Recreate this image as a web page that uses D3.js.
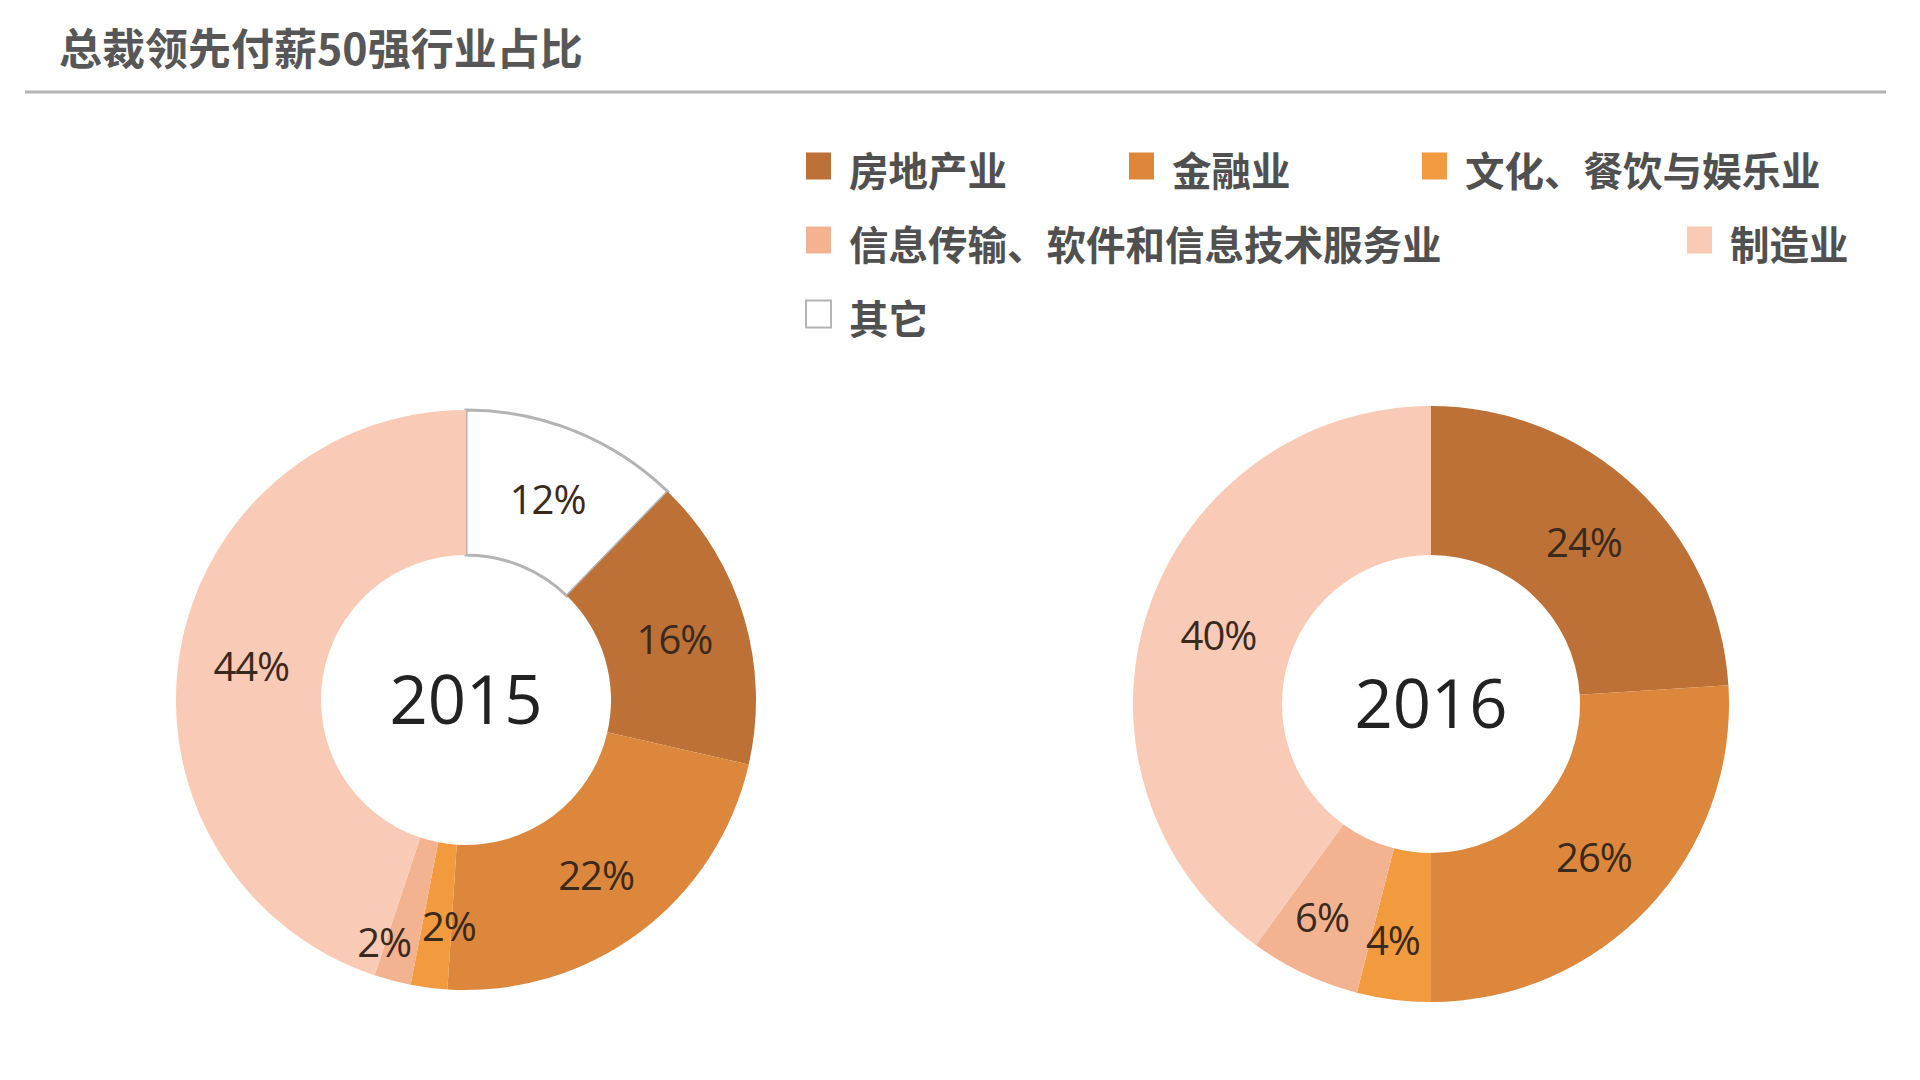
<!DOCTYPE html>
<html>
<head>
<meta charset="utf-8">
<script src="https://cdn.jsdelivr.net/npm/d3@7"></script>
<style>
  body { margin: 0; background: #fff; }
  svg { display: block; }
</style>
</head>
<body>
<div class="area"></div>
<script>
const width = 1920
const height = 1080
const cjkFont = '"Noto Sans CJK SC", "Noto Sans", sans-serif'
const numFont = '"Open Sans", "Noto Sans", sans-serif'

const title = "总裁领先付薪50强行业占比"

// categories in legend order
const categories = [
  "房地产业",
  "金融业",
  "文化、餐饮与娱乐业",
  "信息传输、软件和信息技术服务业",
  "制造业",
  "其它"
]
const colors = ["#bd7136", "#dc873c", "#f29a3e", "#f3b290", "#f9cab6", "#ffffff"]

// slice order around the ring, clockwise from 12 o'clock
const sliceOrder = ["其它", "房地产业", "金融业", "文化、餐饮与娱乐业", "信息传输、软件和信息技术服务业", "制造业"]

const years = ["2015", "2016"]
// values in % , same order as categories
const values2015 = [16, 22, 2, 2, 44, 12]
const values2016 = [24, 26, 4, 6, 40, 0]

const color = d3.scaleOrdinal().domain(categories).range(colors)

const svg = d3.select(".area")
  .append("svg")
  .attr("width", width)
  .attr("height", height)
  .attr("viewBox", [0, 0, width, height])

svg.append("rect")
  .attr("width", width).attr("height", height)
  .attr("fill", "#fff")

// title + rule
svg.append("text")
  .attr("x", 59)
  .attr("y", 46)
  .attr("dominant-baseline", "central")
  .attr("font-family", cjkFont)
  .attr("font-weight", 700)
  .attr("font-size", 43)
  .attr("fill", "#575757")
  .text(title)

svg.append("line")
  .attr("x1", 25).attr("x2", 1886)
  .attr("y1", 92).attr("y2", 92)
  .attr("stroke", "#b4b4b4")
  .attr("stroke-width", 3)

// legend, slots laid out as in the picture
const legendSlots = [
  [806, 166], [1129, 166], [1422, 166],
  [806, 240], [1687, 240],
  [806, 314]
]
const swatch = 27

const legend = svg.append("g")
  .selectAll("g")
  .data(categories)
  .join("g")
  .attr("transform", (d, i) => `translate(${legendSlots[i][0]}, ${legendSlots[i][1]})`)

legend.append("rect")
  .attr("x", 0)
  .attr("y", -swatch / 2)
  .attr("width", swatch - 2)
  .attr("height", swatch)
  .attr("fill", d => color(d))
  .attr("stroke", d => d === "其它" ? "#b4b4b4" : "none")
  .attr("stroke-width", 2)

legend.append("text")
  .attr("x", swatch + 16)
  .attr("y", 2)
  .attr("dominant-baseline", "central")
  .attr("font-family", cjkFont)
  .attr("font-weight", 700)
  .attr("font-size", 39.5)
  .attr("fill", "#505050")
  .text(d => d)

// donuts
const donuts = [
  { year: years[0], values: values2015, cx: 466, cy: 700, outer: 290, inner: 145 },
  { year: years[1], values: values2016, cx: 1431, cy: 704, outer: 298, inner: 149 }
]

// label nudges for the tiny neighbouring slices: [angle deg, radius factor]
const labelNudge = {
  "2015|文化、餐饮与娱乐业": [-3, 0.78],
  "2015|信息传输、软件和信息技术服务业": [4, 0.88],
  "2016|文化、餐饮与娱乐业": [2, 0.8],
  "2016|信息传输、软件和信息技术服务业": [2, 0.8]
}

const pie = d3.pie()
  .sort(null)
  .value(d => d.value)

donuts.forEach(dn => {
  const rows = sliceOrder
    .map(name => ({ name, value: dn.values[categories.indexOf(name)] }))
    .filter(d => d.value > 0)

  const arcs = pie(rows)
  const arc = d3.arc().innerRadius(dn.inner).outerRadius(dn.outer)

  const g = svg.append("g")
    .attr("transform", `translate(${dn.cx}, ${dn.cy})`)

  g.selectAll("path")
    .data(arcs)
    .join("path")
    .attr("d", arc)
    .attr("fill", d => color(d.data.name))
    .attr("stroke", d => d.data.name === "其它" ? "#b4b4b4" : "none")
    .attr("stroke-width", 3)

  g.selectAll("text.pct")
    .data(arcs)
    .join("text")
    .attr("class", "pct")
    .attr("transform", d => {
      const nudge = labelNudge[dn.year + "|" + d.data.name]
      if (!nudge) return `translate(${arc.centroid(d)})`
      const a = (d.startAngle + d.endAngle) / 2 + nudge[0] * Math.PI / 180
      const r = dn.outer * nudge[1]
      return `translate(${r * Math.sin(a)}, ${-r * Math.cos(a)})`
    })
    .attr("text-anchor", "middle")
    .attr("dominant-baseline", "central")
    .attr("font-family", numFont)
    .attr("font-size", 40)
    .attr("letter-spacing", -1)
    .attr("fill", "#3a2a1e")
    .text(d => d.data.value + "%")

  g.append("text")
    .attr("text-anchor", "middle")
    .attr("dominant-baseline", "central")
    .attr("y", -2)
    .attr("font-family", numFont)
    .attr("font-size", 67)
    .attr("fill", "#222")
    .text(dn.year)
})
</script>
</body>
</html>
